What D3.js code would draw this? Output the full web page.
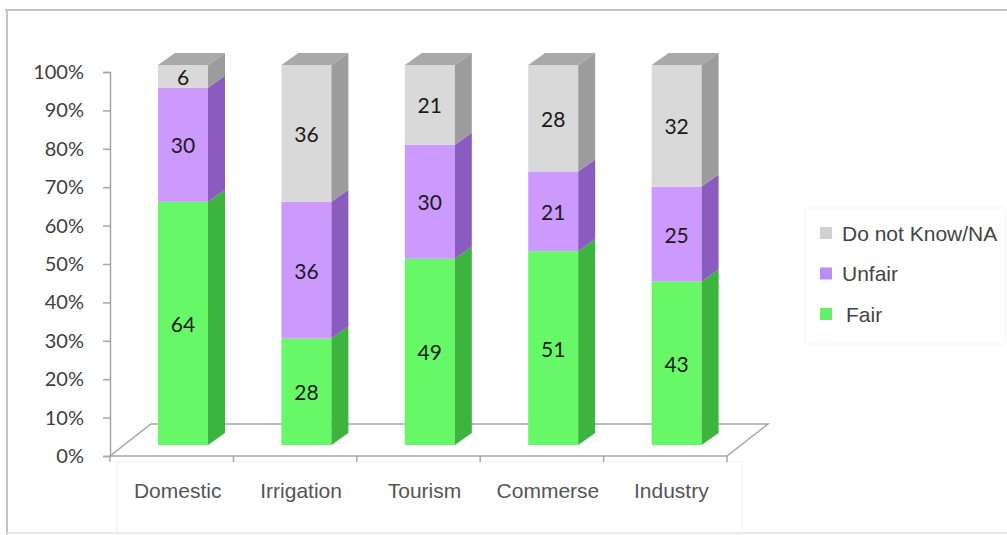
<!DOCTYPE html>
<html>
<head>
<meta charset="utf-8">
<script src="https://cdn.jsdelivr.net/npm/d3@7/dist/d3.min.js"></script>
<style>
  html, body { margin: 0; padding: 0; background: #fff; }
  svg { display: block; }
</style>
</head>
<body>
<svg id="chart" width="1007" height="535"></svg>
<script>
// Stacked 100% columns with a 3-D look
const categories = ["Domestic", "Irrigation", "Tourism", "Commerse", "Industry"];
const seriesNames = ["Fair", "Unfair", "Do not Know/NA"];
const fair = [64, 28, 49, 51, 43];
const unfair = [30, 36, 30, 21, 25];
const dontKnow = [6, 36, 21, 28, 32];
const yTicks = [0, 0.1, 0.2, 0.3, 0.4, 0.5, 0.6, 0.7, 0.8, 0.9, 1];

const frontColors = ["#66f866", "#cc99ff", "#d9d9d9"];
const sideColors = ["#3db43d", "#8b5cc0", "#9c9c9c"];
const legendColors = ["#66ee66", "#bb8cf2", "#d0d0d0"];
const topColor = "#a9a9a9";

const svg = d3.select("#chart");

// outer frame
svg.append("line").attr("x1", 5).attr("x2", 1007).attr("y1", 10).attr("y2", 10)
  .attr("stroke", "#c4c4c4").attr("stroke-width", 2);
svg.append("line").attr("x1", 7).attr("x2", 7).attr("y1", 10).attr("y2", 535)
  .attr("stroke", "#c4c4c4").attr("stroke-width", 2);
svg.append("line").attr("x1", 7).attr("x2", 1007).attr("y1", 533).attr("y2", 533)
  .attr("stroke", "#e8e8e8").attr("stroke-width", 2);

// scales
const x = d3.scaleBand().domain(categories).range([110, 727]);
const y = d3.scaleLinear().domain([0, 1]).range([456, 72]);
const yBar = d3.scaleLinear().domain([0, 100]).range([445, 65]);

const depth = { dx: 41, dy: -32 };     // floor depth
const side = { dx: 17, dy: -12 };      // column depth
const barW = 50;
const barOffset = 48;                  // front face start inside its band

// faint label boxes
svg.append("rect").attr("x", 117).attr("y", 462).attr("width", 625).attr("height", 72)
  .attr("fill", "none").attr("stroke", "#f0f0f0");
svg.append("rect").attr("x", 805).attr("y", 208).attr("width", 200).attr("height", 136)
  .attr("fill", "none").attr("stroke", "#f2f2f2");

// floor
const x0 = x.range()[0], x1 = x.range()[1];
svg.append("path")
  .attr("d", `M${x0},${y(0)} L${x1},${y(0)} L${x1 + depth.dx},${y(0) + depth.dy} L${x0 + depth.dx},${y(0) + depth.dy} Z`)
  .attr("fill", "none").attr("stroke", "#a6a6a6").attr("stroke-width", 1.5);

// category ticks on the floor's front edge
const bounds = categories.map(c => x(c)).concat([x1]);
svg.append("g").selectAll("line").data(bounds).join("line")
  .attr("x1", d => d).attr("x2", d => d)
  .attr("y1", y(0)).attr("y2", y(0) + 6)
  .attr("stroke", "#a6a6a6").attr("stroke-width", 1.5);

// value axis
const yAxis = svg.append("g").attr("transform", `translate(${x0},0)`)
  .call(d3.axisLeft(y).tickValues(yTicks).tickFormat(d3.format(".0%")).tickSize(7).tickPadding(19));
yAxis.select(".domain").attr("stroke", "#a6a6a6").attr("stroke-width", 1.5);
yAxis.selectAll(".tick line").attr("stroke", "#a6a6a6").attr("stroke-width", 1.5);
yAxis.selectAll(".tick text")
  .attr("font-family", "Lato, 'Open Sans', sans-serif").attr("font-size", 20).attr("fill", "#404040");

// stacked data
const table = categories.map((c, i) => ({ cat: c, Fair: fair[i], Unfair: unfair[i], "Do not Know/NA": dontKnow[i] }));
const stacked = d3.stack().keys(seriesNames)(table);

const bars = svg.append("g");
stacked.forEach((layer, si) => {
  const g = bars.append("g");
  layer.forEach(seg => {
    const cat = seg.data.cat;
    const fx = x(cat) + barOffset;
    const yb = yBar(seg[0]), yt = yBar(seg[1]);
    // front face
    g.append("rect").attr("x", fx).attr("y", yt).attr("width", barW).attr("height", yb - yt)
      .attr("fill", frontColors[si]);
    // side face
    g.append("path")
      .attr("d", `M${fx + barW},${yb} L${fx + barW + side.dx},${yb + side.dy} L${fx + barW + side.dx},${yt + side.dy} L${fx + barW},${yt} Z`)
      .attr("fill", sideColors[si]);
    // top face on the last series
    if (si === stacked.length - 1) {
      g.append("path")
        .attr("d", `M${fx},${yt} L${fx + side.dx},${yt + side.dy} L${fx + barW + side.dx},${yt + side.dy} L${fx + barW},${yt} Z`)
        .attr("fill", topColor);
    }
    // value label
    g.append("text")
      .attr("x", fx + barW / 2).attr("y", (yb + yt) / 2)
      .attr("text-anchor", "middle").attr("dominant-baseline", "central")
      .attr("font-family", "Lato, 'Open Sans', sans-serif").attr("font-size", 21)
      .attr("fill", "#1a1a1a")
      .text(seg.data[layer.key]);
  });
});

// category labels
svg.append("g").selectAll("text").data(categories).join("text")
  .attr("x", d => x(d) + x.bandwidth() / 2 + 6)
  .attr("y", 490)
  .attr("text-anchor", "middle").attr("dominant-baseline", "central")
  .attr("font-family", "'Liberation Sans', Arial, sans-serif").attr("font-size", 21)
  .attr("fill", "#555")
  .text(d => d);

// legend
const legendOrder = seriesNames.slice().reverse();
const legend = svg.append("g").attr("transform", "translate(820,233)");
legendOrder.forEach((name, i) => {
  const si = seriesNames.indexOf(name);
  const row = legend.append("g").attr("transform", `translate(0,${i * 40.5})`);
  row.append("rect").attr("x", 0).attr("y", -6).attr("width", 12).attr("height", 12)
    .attr("fill", legendColors[si]);
  row.append("text").attr("x", name === "Fair" ? 26 : 22).attr("y", 0)
    .attr("dominant-baseline", "central")
    .attr("font-family", "'Liberation Sans', Arial, sans-serif").attr("font-size", 21)
    .attr("fill", "#444")
    .text(name);
});
</script>
</body>
</html>
